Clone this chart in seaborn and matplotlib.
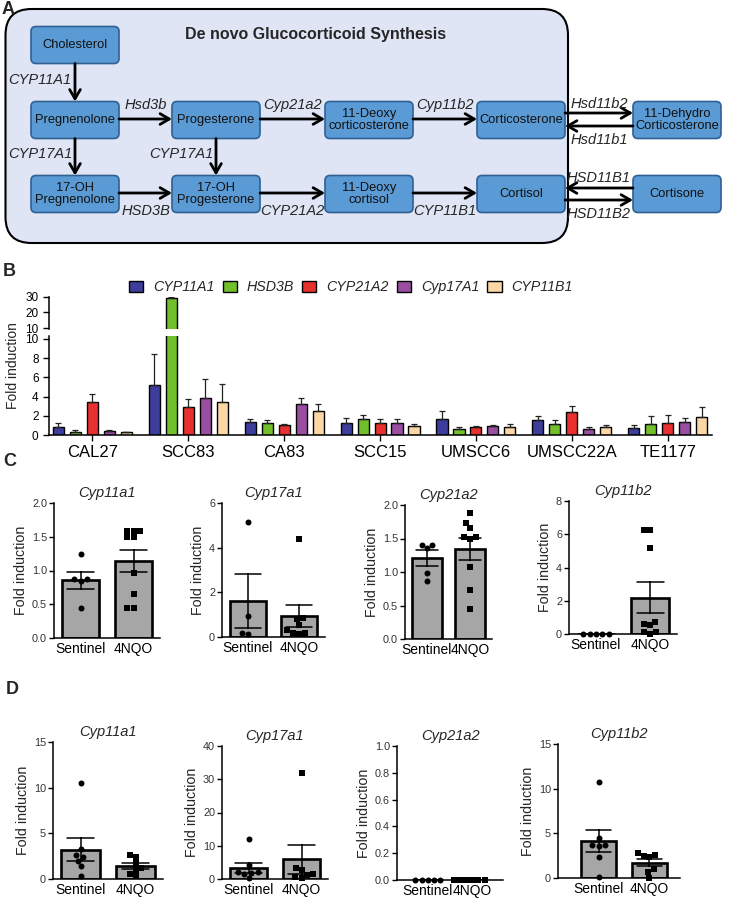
import numpy as np
import pandas as pd
import seaborn as sns
import matplotlib.pyplot as plt
from matplotlib import font_manager
from matplotlib.patches import FancyBboxPatch

W, H = 729, 898

# ---------------- data ----------------
# panel A: pathway nodes and reactions
pathway_nodes = ["Cholesterol", "Pregnenolone", "Progesterone",
                 "11-Deoxy\ncorticosterone", "Corticosterone",
                 "11-Dehydro\nCorticosterone", "17-OH\nPregnenolone",
                 "17-OH\nProgesterone", "11-Deoxy\ncortisol", "Cortisol",
                 "Cortisone"]
reactions = [(0, 1, "CYP11A1"), (1, 2, "Hsd3b"), (2, 3, "Cyp21a2"),
             (3, 4, "Cyp11b2"), (1, 6, "CYP17A1"), (2, 7, "CYP17A1"),
             (6, 7, "HSD3B"), (7, 8, "CYP21A2"), (8, 9, "CYP11B1")]
# reversible steps: (left node, right node, upper enzyme, lower enzyme)
exchanges = [(4, 5, "Hsd11b2", "Hsd11b1"), (9, 10, "HSD11B1", "HSD11B2")]
pathway_title = "De novo Glucocorticoid Synthesis"

# panel B: cell lines
cell_lines = ["CAL27", "SCC83", "CA83", "SCC15", "UMSCC6", "UMSCC22A", "TE1177"]
genes_b = ["CYP11A1", "HSD3B", "CYP21A2", "Cyp17A1", "CYP11B1"]
cyp11a1_mean = [0.84, 5.2, 1.37, 1.2, 1.7, 1.6, 0.73]
cyp11a1_err = [0.36, 3.2, 0.33, 0.6, 0.8, 0.4, 0.32]
hsd3b_mean = [0.3, 29.3, 1.2, 1.7, 0.67, 1.12, 1.15]
hsd3b_err = [0.2, 0.7, 0.35, 0.4, 0.2, 0.45, 0.85]
cyp21a2_mean = [3.4, 2.95, 1.0, 1.2, 0.8, 2.38, 1.26]
cyp21a2_err = [0.9, 0.75, 0.15, 0.5, 0.15, 0.67, 0.84]
cyp17a1_mean = [0.42, 3.8, 3.2, 1.22, 0.9, 0.63, 1.33]
cyp17a1_err = [0.13, 2.0, 0.6, 0.48, 0.15, 0.24, 0.47]
cyp11b1_mean = [0.28, 3.4, 2.45, 0.95, 0.87, 0.87, 1.92]
cyp11b1_err = [0.07, 1.9, 0.75, 0.2, 0.23, 0.21, 0.95]
gene_colors = ["#3d3d9b", "#72bf2c", "#e8312f", "#9a4ea1", "#fcd7a6"]

# panels C and D: mouse samples
groups = ["Sentinel", "4NQO"]
mouse_genes = ["Cyp11a1", "Cyp17a1", "Cyp21a2", "Cyp11b2"]
c_sentinel = [[1.24, 0.87, 0.85, 0.87, 0.45],
              [5.15, 0.93, 0.15, 0.2],
              [1.41, 1.41, 1.36, 0.98, 0.86],
              [0, 0, 0, 0, 0]]
c_4nqo = [[1.59, 1.59, 1.59, 1.49, 1.49, 0.97, 0.65, 0.45, 0.45],
          [4.4, 0.85, 0.8, 0.55, 0.3, 0.15, 0.2, 0.2],
          [1.88, 1.73, 1.66, 1.52, 1.5, 1.52, 1.07, 0.73, 0.45],
          [6.24, 6.24, 5.2, 0.72, 0.52, 0.6, 0, 0.1, 0.1]]
d_sentinel = [[10.5, 3.3, 2.6, 2.4, 2.0, 1.4, 0.35],
              [12.0, 4.2, 2.2, 2.0, 1.8, 1.5, 0.2],
              [0, 0, 0, 0, 0],
              [10.7, 4.5, 3.7, 3.7, 3.6, 2.3, 0.15]]
d_4nqo = [[2.65, 2.4, 1.7, 1.2, 1.0, 0.6, 0.3],
          [31.9, 3.3, 2.6, 1.4, 1.2, 0.5, 0.2],
          [0, 0, 0, 0, 0, 0],
          [2.8, 2.55, 2.5, 2.3, 1.0, 0.7, 0.05]]
c_ymax = [2.0, 6, 2.0, 8]
c_step = [0.5, 2, 0.5, 2]
d_ymax = [15, 40, 1.0, 15]
d_step = [5, 10, 0.2, 5]

# ---------------- style ----------------
sns.set_theme(style="ticks")
installed = {f.name for f in font_manager.fontManager.ttflist}
NARROW = "Liberation Sans Narrow" if "Liberation Sans Narrow" in installed else "Liberation Sans"
box_size = 11 if NARROW == "Liberation Sans Narrow" else 9.3
plt.rcParams["font.family"] = ["Liberation Sans", "DejaVu Sans"]
plt.rcParams["axes.edgecolor"] = "black"
plt.rcParams["axes.linewidth"] = 1.1
plt.rcParams["xtick.color"] = "black"
plt.rcParams["ytick.color"] = "black"

fig = plt.figure(figsize=(W / 100, H / 100), dpi=100)


def rect(left, top, right, bottom):
    return [left / W, 1 - bottom / H, (right - left) / W, (bottom - top) / H]


# ---------------- panel A (pixel canvas) ----------------
canvas = fig.add_axes([0, 0, 1, 1])
canvas.set_xlim(0, W)
canvas.set_ylim(H, 0)
canvas.axis("off")

for letter, (lx, ly) in zip("ABCD", [(8, 10), (9, 272), (10, 461), (12, 690)]):
    canvas.text(lx, ly, letter, fontsize=13, fontweight="bold",
                ha="center", va="center")

canvas.add_patch(FancyBboxPatch((5.5, 9), 562.5, 234,
                                boxstyle="round,pad=0,rounding_size=26",
                                fc="#dfe5f5", ec="black", lw=1.5))
canvas.text(316, 35, pathway_title, fontsize=11.5, fontweight="bold",
            family=[NARROW, "DejaVu Sans"], ha="center", va="center")

col_x = [75, 216, 369, 521, 677]
row_y = [45, 120, 194]
node_slot = [(0, 0), (0, 1), (1, 1), (2, 1), (3, 1), (4, 1),
             (0, 2), (1, 2), (2, 2), (3, 2), (4, 2)]
bw, bh = 88, 37
centers = [(col_x[c], row_y[r]) for c, r in node_slot]
for name, (cx, cy) in zip(pathway_nodes, centers):
    canvas.add_patch(FancyBboxPatch((cx - bw / 2, cy - bh / 2), bw, bh,
                                    boxstyle="round,pad=0,rounding_size=5",
                                    fc="#5b9bd5", ec="#2f5f93", lw=1.2))
    canvas.text(cx, cy, name, fontsize=box_size, family=[NARROW, "DejaVu Sans"],
                ha="center", va="center", linespacing=1.1, color="#111111")

arrow_kw = dict(arrowstyle="->,head_length=0.55,head_width=0.32", lw=2,
                color="black", shrinkA=0, shrinkB=0)
enz_kw = dict(fontsize=10.5, style="italic", family=[NARROW, "DejaVu Sans"],
              va="center")


def arrow(x0, y0, x1, y1):
    canvas.annotate("", xy=(x1, y1), xytext=(x0, y0), arrowprops=arrow_kw)


for src, dst, enz in reactions:
    (x0, y0), (x1, y1) = centers[src], centers[dst]
    if x0 == x1:
        arrow(x0, y0 + bh / 2, x1, y1 - bh / 2)
        canvas.text(x0 - 35, (y0 + y1) / 2 - 3, enz, ha="center", **enz_kw)
    else:
        ya = (y0 + y1) / 2 - 1
        arrow(x0 + bw / 2, ya, x1 - bw / 2, ya)
        ly = ya - 14 if node_slot[src][1] == 1 else ya + 18
        canvas.text((x0 + x1) / 2, ly, enz, ha="center", **enz_kw)

for left, right, top_enz, bottom_enz in exchanges:
    (x0, y0), (x1, _) = centers[left], centers[right]
    xa, xb = x0 + bw / 2, x1 - bw / 2
    forward_on_top = node_slot[left][1] == 1
    if forward_on_top:
        arrow(xa, y0 - 7, xb, y0 - 7)
        arrow(xb, y0 + 6, xa, y0 + 6)
    else:
        arrow(xb, y0 - 6, xa, y0 - 6)
        arrow(xa, y0 + 6, xb, y0 + 6)
    canvas.text((xa + xb) / 2, y0 - 16, top_enz, ha="center", **enz_kw)
    canvas.text((xa + xb) / 2, y0 + 20, bottom_enz, ha="center", **enz_kw)

# ---------------- panel B (broken y axis) ----------------
means = [cyp11a1_mean, hsd3b_mean, cyp21a2_mean, cyp17a1_mean, cyp11b1_mean]
errs = [cyp11a1_err, hsd3b_err, cyp21a2_err, cyp17a1_err, cyp11b1_err]
df_b = pd.DataFrame({
    "line": np.tile(cell_lines, len(genes_b)),
    "gene": np.repeat(genes_b, len(cell_lines)),
    "value": np.concatenate(means),
})

ax_hi = fig.add_axes(rect(49, 296.5, 712, 328.8))
ax_lo = fig.add_axes(rect(49, 336, 712, 435))
for ax, show_legend in [(ax_hi, False), (ax_lo, True)]:
    sns.barplot(data=df_b, x="line", y="value", hue="gene", order=cell_lines,
                hue_order=genes_b, palette=gene_colors, saturation=1,
                edgecolor="black", linewidth=1, width=0.885, gap=0.35,
                errorbar=None, legend=show_legend, ax=ax)
    for cont, err in zip(ax.containers, errs):
        xs = [b.get_x() + b.get_width() / 2 for b in cont]
        ys = [b.get_height() for b in cont]
        ax.errorbar(xs, ys, yerr=[np.zeros(len(err)), err], fmt="none",
                    ecolor="#222222", elinewidth=0.9, capsize=2.2,
                    capthick=0.9, zorder=3)
    ax.set_xlim(-0.45, 6.46)
    ax.set_xlabel("")
    ax.set_ylabel("")
    ax.tick_params(axis="y", labelsize=8.5, length=4, width=1)

handles, labels = ax_lo.get_legend_handles_labels()
ax_lo.get_legend().remove()
fig.legend(handles, labels, loc="center", bbox_to_anchor=(351 / W, 1 - 287 / H),
           ncol=5, frameon=False, prop=dict(style="italic", size=10.3),
           handlelength=1.0, handleheight=0.8, handletextpad=0.7,
           columnspacing=0.55, borderpad=0)

ax_hi.set_ylim(9.5, 30.3)
ax_hi.set_yticks([10, 20, 30])
ax_hi.spines[["top", "right", "bottom"]].set_visible(False)
ax_hi.set_xticks([])

ax_lo.set_ylim(0, 10.3)
ax_lo.set_yticks(range(0, 11, 2))
ax_lo.spines[["top", "right"]].set_visible(False)
ax_lo.tick_params(axis="x", labelsize=12, length=4, width=1, pad=3)
fig.text(13 / W, 1 - 366 / H, "Fold induction", rotation=90, fontsize=10,
         ha="center", va="center")

# ---------------- panels C and D ----------------
c_rects = [(54, 503, 160, 638), (222, 503, 325, 637),
           (405, 505, 492, 639), (569, 501, 677, 634)]
d_rects = [(53, 742, 163, 879), (222, 746, 328, 879),
           (397, 746, 503, 880), (558, 744, 680, 878)]
d_xlims = [(-0.5, 1.5), (-0.5, 1.5), (-0.7, 1.7), (-0.8, 1.6)]


def group_panel(box, gene, sent, nqo, ymax, step, xlim):
    ax = fig.add_axes(rect(*box))
    df = pd.DataFrame({"group": ["Sentinel"] * len(sent) + ["4NQO"] * len(nqo),
                       "value": sent + nqo})
    sns.barplot(data=df, x="group", y="value", order=groups, errorbar="se",
                capsize=0.5, width=0.7, color="#a6a6a6", saturation=1,
                edgecolor="black", linewidth=1.9,
                err_kws={"color": "black", "linewidth": 1.1}, ax=ax)
    for grp, mk in zip(groups, ["o", "s"]):
        sns.swarmplot(data=df[df["group"] == grp], x="group", y="value",
                      order=groups, marker=mk, color="black", size=4.3,
                      clip_on=False, zorder=4, ax=ax)
    ax.set_xlim(*xlim)
    ax.set_ylim(0, ymax)
    ticks = np.arange(0, ymax + step / 2, step)
    ax.set_yticks(ticks)
    if step < 1:
        ax.set_yticklabels([f"{t:.1f}" for t in ticks])
    else:
        ax.set_yticklabels([f"{t:.0f}" for t in ticks])
    sns.despine(ax=ax)
    ax.tick_params(axis="y", labelsize=7.8, length=3.5, width=1,
                   labelcolor="#333333", pad=1.5)
    ax.tick_params(axis="x", labelsize=10, length=0, pad=3)
    ax.set_xlabel("")
    ax.set_ylabel("Fold induction", fontsize=10.3, labelpad=3)
    ax.set_title(gene, fontsize=10.5, style="italic", pad=4)
    return ax


for i, gene in enumerate(mouse_genes):
    group_panel(c_rects[i], gene, c_sentinel[i], c_4nqo[i], c_ymax[i],
                c_step[i], (-0.5, 1.5))
    group_panel(d_rects[i], gene, d_sentinel[i], d_4nqo[i], d_ymax[i],
                d_step[i], d_xlims[i])

fig.savefig("out.png", dpi=100)
